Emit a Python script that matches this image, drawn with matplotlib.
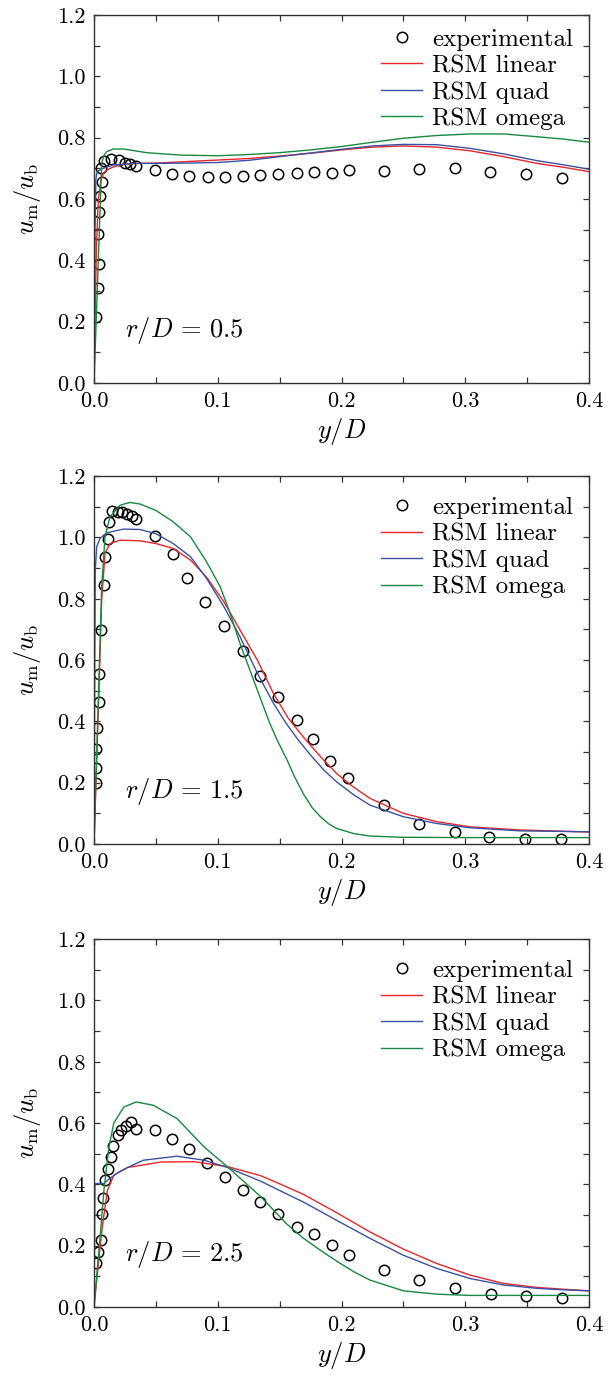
import matplotlib
matplotlib.use("Agg")
import matplotlib.pyplot as plt
from matplotlib.ticker import MultipleLocator, FormatStrFormatter

plt.rcParams['font.family'] = ['cmr10', 'DejaVu Serif']
plt.rcParams['mathtext.fontset'] = 'cm'
plt.rcParams['axes.formatter.use_mathtext'] = True

# ---- r/D = 0.5 ----
exp1_x = [0.0015, 0.003, 0.004, 0.0035, 0.004, 0.005, 0.0065, 0.0055, 0.008, 0.014, 0.020, 0.025,
          0.029, 0.034, 0.049, 0.063, 0.077, 0.092, 0.106, 0.120, 0.134, 0.149, 0.164, 0.178,
          0.192, 0.206, 0.234, 0.263, 0.292, 0.320, 0.349, 0.378]
exp1_y = [0.215, 0.311, 0.387, 0.487, 0.558, 0.609, 0.655, 0.700, 0.725, 0.729, 0.727, 0.718,
          0.713, 0.708, 0.694, 0.683, 0.676, 0.672, 0.672, 0.675, 0.678, 0.681, 0.686, 0.689,
          0.686, 0.695, 0.692, 0.697, 0.702, 0.687, 0.680, 0.669]
lin1_x = [0, 0.0008, 0.002, 0.0035, 0.0054, 0.0075, 0.01, 0.013, 0.017, 0.021, 0.027, 0.034, 0.05,
          0.075, 0.1, 0.125, 0.15, 0.175, 0.2, 0.225, 0.25, 0.277, 0.304, 0.331, 0.358, 0.38, 0.4]
lin1_y = [0, 0.2, 0.45, 0.597, 0.656, 0.684, 0.693, 0.700, 0.706, 0.711, 0.714, 0.716, 0.717,
          0.722, 0.727, 0.732, 0.740, 0.749, 0.760, 0.769, 0.773, 0.769, 0.757, 0.738, 0.716, 0.703, 0.689]
quad1_x = [0, 0.0008, 0.0015, 0.0022, 0.004, 0.0075, 0.0156, 0.034, 0.05, 0.075, 0.1, 0.125, 0.15,
           0.175, 0.2, 0.225, 0.25, 0.277, 0.304, 0.331, 0.358, 0.38, 0.4]
quad1_y = [0, 0.50, 0.662, 0.684, 0.693, 0.700, 0.711, 0.716, 0.716, 0.717, 0.719, 0.726, 0.738,
           0.750, 0.762, 0.773, 0.778, 0.777, 0.765, 0.747, 0.725, 0.711, 0.697]
omg1_x = [0, 0.002, 0.004, 0.0062, 0.008, 0.0102, 0.0156, 0.024, 0.0425, 0.07, 0.1, 0.125, 0.15,
          0.175, 0.2, 0.225, 0.25, 0.277, 0.304, 0.331, 0.358, 0.38, 0.4]
omg1_y = [0, 0.23, 0.46, 0.716, 0.742, 0.754, 0.763, 0.763, 0.751, 0.743, 0.741, 0.745, 0.751,
          0.760, 0.771, 0.785, 0.798, 0.807, 0.812, 0.812, 0.803, 0.795, 0.785]

# ---- r/D = 1.5 ----
exp2_x = [0.0013, 0.0013, 0.002, 0.0027, 0.0043, 0.0043, 0.0054, 0.008, 0.009, 0.011, 0.0124,
          0.0145, 0.019, 0.023, 0.027, 0.031, 0.034, 0.049, 0.064, 0.0755, 0.090, 0.105, 0.120,
          0.134, 0.149, 0.164, 0.177, 0.191, 0.205, 0.234, 0.263, 0.292, 0.319, 0.348, 0.377]
exp2_y = [0.198, 0.247, 0.310, 0.377, 0.462, 0.554, 0.698, 0.845, 0.937, 0.995, 1.050, 1.086,
          1.084, 1.084, 1.078, 1.070, 1.059, 1.005, 0.945, 0.868, 0.790, 0.711, 0.629, 0.549,
          0.478, 0.404, 0.341, 0.271, 0.214, 0.127, 0.065, 0.040, 0.024, 0.016, 0.018]
lin2_x = [0, 0.002, 0.004, 0.0062, 0.0089, 0.0129, 0.021, 0.037, 0.05, 0.064, 0.078, 0.091, 0.105,
          0.118, 0.132, 0.145, 0.157, 0.170, 0.183, 0.196, 0.21, 0.223, 0.25, 0.277, 0.304, 0.344, 0.4]
lin2_y = [0, 0.25, 0.5, 0.796, 0.948, 0.980, 0.991, 0.989, 0.980, 0.964, 0.926, 0.870, 0.790,
          0.698, 0.600, 0.491, 0.410, 0.345, 0.285, 0.230, 0.185, 0.149, 0.100, 0.073, 0.056, 0.046, 0.039]
quad2_x = [0, 0.0006, 0.001, 0.0022, 0.0048, 0.0102, 0.0237, 0.037, 0.05, 0.064, 0.078, 0.091,
           0.105, 0.118, 0.132, 0.145, 0.155, 0.164, 0.175, 0.186, 0.196, 0.21, 0.223, 0.25, 0.277,
           0.304, 0.344, 0.4]
quad2_y = [0, 0.60, 0.893, 0.970, 0.997, 1.015, 1.027, 1.026, 1.012, 0.980, 0.937, 0.866, 0.774,
           0.676, 0.557, 0.459, 0.395, 0.345, 0.290, 0.240, 0.203, 0.160, 0.127, 0.089, 0.067,
           0.053, 0.043, 0.040]
omg2_x = [0, 0.002, 0.004, 0.0062, 0.0089, 0.0129, 0.021, 0.029, 0.0372, 0.05, 0.064, 0.078, 0.091,
          0.102, 0.110, 0.118, 0.126, 0.134, 0.142, 0.148, 0.156, 0.162, 0.169, 0.176, 0.183, 0.19,
          0.196, 0.21, 0.223, 0.25, 0.3, 0.4]
omg2_y = [0, 0.27, 0.54, 0.839, 1.002, 1.067, 1.105, 1.114, 1.109, 1.088, 1.051, 1.002, 0.920,
          0.839, 0.752, 0.654, 0.567, 0.480, 0.394, 0.339, 0.274, 0.220, 0.165, 0.120, 0.089, 0.065,
          0.051, 0.034, 0.026, 0.022, 0.021, 0.021]

# ---- r/D = 2.5 ----
exp3_x = [0.0016, 0.0035, 0.0054, 0.0062, 0.0075, 0.009, 0.011, 0.0134, 0.0156, 0.019, 0.022,
          0.026, 0.030, 0.034, 0.049, 0.063, 0.077, 0.091, 0.106, 0.120, 0.134, 0.149, 0.164,
          0.178, 0.192, 0.206, 0.234, 0.263, 0.292, 0.321, 0.349, 0.378]
exp3_y = [0.144, 0.179, 0.219, 0.303, 0.357, 0.415, 0.450, 0.489, 0.525, 0.560, 0.576, 0.590,
          0.603, 0.581, 0.576, 0.547, 0.517, 0.471, 0.425, 0.383, 0.342, 0.305, 0.260, 0.238,
          0.202, 0.171, 0.120, 0.088, 0.061, 0.042, 0.037, 0.028]
lin3_x = [0, 0.0035, 0.0067, 0.0108, 0.016, 0.027, 0.054, 0.081, 0.108, 0.135, 0.15, 0.169,
          0.196, 0.223, 0.25, 0.277, 0.304, 0.331, 0.358, 0.38, 0.4]
lin3_y = [0, 0.140, 0.262, 0.380, 0.430, 0.455, 0.473, 0.474, 0.458, 0.428, 0.402, 0.368,
          0.308, 0.245, 0.189, 0.142, 0.104, 0.077, 0.064, 0.058, 0.053]
quad3_x = [0, 0.0008, 0.008, 0.0129, 0.02, 0.027, 0.040, 0.067, 0.089, 0.108, 0.135, 0.15,
           0.169, 0.196, 0.223, 0.25, 0.277, 0.304, 0.331, 0.358, 0.38, 0.4]
quad3_y = [0, 0.403, 0.403, 0.420, 0.440, 0.455, 0.479, 0.492, 0.479, 0.455, 0.410, 0.380,
           0.343, 0.283, 0.224, 0.169, 0.126, 0.093, 0.072, 0.061, 0.056, 0.053]
omg3_x = [0, 0.0054, 0.008, 0.012, 0.016, 0.024, 0.034, 0.048, 0.067, 0.089, 0.108, 0.135,
          0.156, 0.169, 0.183, 0.196, 0.21, 0.223, 0.25, 0.277, 0.304, 0.4]
omg3_y = [0, 0.25, 0.38, 0.52, 0.60, 0.652, 0.669, 0.658, 0.615, 0.522, 0.457, 0.359,
          0.270, 0.225, 0.185, 0.150, 0.115, 0.088, 0.053, 0.042, 0.038, 0.038]

panels = [
    ("0.5", exp1_x, exp1_y, lin1_x, lin1_y, quad1_x, quad1_y, omg1_x, omg1_y),
    ("1.5", exp2_x, exp2_y, lin2_x, lin2_y, quad2_x, quad2_y, omg2_x, omg2_y),
    ("2.5", exp3_x, exp3_y, lin3_x, lin3_y, quad3_x, quad3_y, omg3_x, omg3_y),
]
bottoms = [0.7217, 0.3866, 0.0501]
leg_tops = [0.964, 0.945, 0.945]

fig = plt.figure(figsize=(6.16, 13.76), dpi=100)
for (rd, ex, ey, lx, ly, qx, qy, ox, oy), b, lt in zip(panels, bottoms, leg_tops):
    ax = fig.add_axes([0.1526, b, 0.8036, 0.2674])
    ax.plot(ex, ey, 'o', mfc='none', mec='black', mew=1.1, ms=7.5, label='experimental')
    ax.plot(lx, ly, color='#e8262b', lw=1.0, label='RSM linear')
    ax.plot(qx, qy, color='#3a52a4', lw=1.0, label='RSM quad')
    ax.plot(ox, oy, color='#168a3e', lw=1.0, label='RSM omega')
    ax.set_xlim(0, 0.4)
    ax.set_ylim(0, 1.2)
    ax.xaxis.set_major_locator(MultipleLocator(0.1))
    ax.xaxis.set_minor_locator(MultipleLocator(0.05))
    ax.yaxis.set_major_locator(MultipleLocator(0.2))
    ax.yaxis.set_minor_locator(MultipleLocator(0.1))
    ax.xaxis.set_major_formatter(FormatStrFormatter('%.1f'))
    ax.yaxis.set_major_formatter(FormatStrFormatter('%.1f'))
    ax.tick_params(which='both', direction='in', top=True, right=True, length=4,
                   width=0.9, color='#333333', labelsize=16, pad=6)
    for s in ax.spines.values():
        s.set_color('#333333')
        s.set_linewidth(1.0)
    ax.set_xlabel(r'$y/D$', fontsize=19, labelpad=4)
    ax.set_ylabel(r'$u_\mathrm{m}/u_\mathrm{b}$', fontsize=19, labelpad=10)
    ax.text(0.063, 0.142, r'$r/D\,=\,%s$' % rd, transform=ax.transAxes, fontsize=19,
            va='center', ha='left')
    ax.legend(loc='upper left', bbox_to_anchor=(0.58, lt), frameon=False, fontsize=18,
              numpoints=1, handlelength=1.65, handletextpad=0.4, labelspacing=0.16,
              borderpad=0, borderaxespad=0)

fig.savefig('out.png', dpi=100)
